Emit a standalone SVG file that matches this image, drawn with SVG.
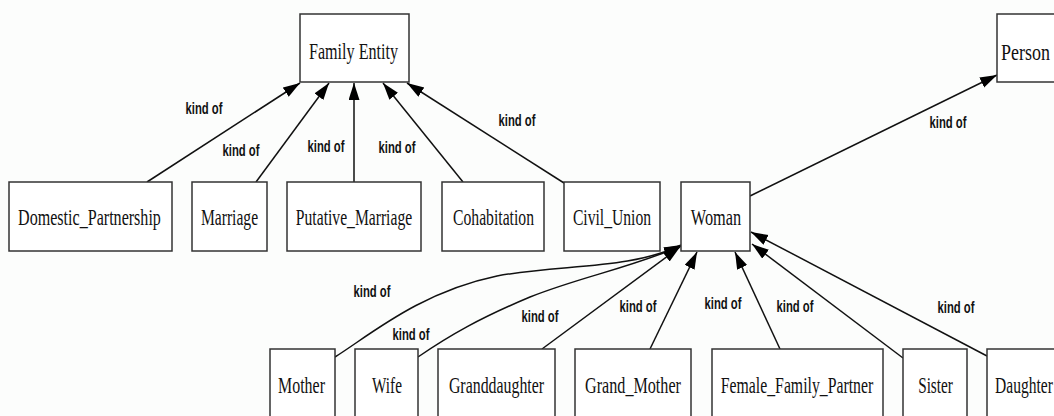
<svg xmlns="http://www.w3.org/2000/svg" width="1054" height="416" viewBox="0 0 1054 416">
<style>
.box{fill:#ffffff;stroke:#333333;stroke-width:1.5}
.nt{font-family:"Liberation Serif","Times New Roman",serif;font-size:24px;fill:#111111;text-anchor:middle}
.lb{font-family:"Liberation Sans",Arial,sans-serif;font-size:17px;font-weight:bold;fill:#111111;text-anchor:middle}
.e{fill:none;stroke:#111111;stroke-width:1.5;marker-end:url(#ah)}
</style>
<defs>
<marker id="ah" markerUnits="userSpaceOnUse" markerWidth="18" markerHeight="12" refX="17" refY="5.5" orient="auto">
<path d="M0,0 L17,5.5 L0,11 z" fill="#000000"/>
</marker>
</defs>
<rect x="0" y="0" width="1054" height="416" fill="#fcfdfc"/>
<g id="connectors">
<path class="e" d="M147,182 L300,83"/>
<path class="e" d="M256,182 L329,83"/>
<path class="e" d="M354,182 L354,83"/>
<path class="e" d="M463,182 L383,83"/>
<path class="e" d="M564,183 L407,83"/>
<path class="e" d="M750,196 L997,75"/>
<path class="e" d="M335,357 C370,335 420,292 497,276 C560,264 630,270 681,245"/>
<path class="e" d="M418,357 C450,335 480,318 530,297 C580,277 630,268 681,246"/>
<path class="e" d="M542,349 L680,247"/>
<path class="e" d="M650,349 L697,252"/>
<path class="e" d="M780,349 L735,252"/>
<path class="e" d="M903,358 L752,244"/>
<path class="e" d="M987,356 L751,232"/>
<text class="lb" transform="translate(204,114) scale(0.66,1)" textLength="56" lengthAdjust="spacingAndGlyphs">kind of</text>
<text class="lb" transform="translate(241,156) scale(0.66,1)" textLength="56" lengthAdjust="spacingAndGlyphs">kind of</text>
<text class="lb" transform="translate(326,152) scale(0.66,1)" textLength="56" lengthAdjust="spacingAndGlyphs">kind of</text>
<text class="lb" transform="translate(397,153) scale(0.66,1)" textLength="56" lengthAdjust="spacingAndGlyphs">kind of</text>
<text class="lb" transform="translate(517,126) scale(0.66,1)" textLength="56" lengthAdjust="spacingAndGlyphs">kind of</text>
<text class="lb" transform="translate(948,128) scale(0.66,1)" textLength="56" lengthAdjust="spacingAndGlyphs">kind of</text>
<text class="lb" transform="translate(372,297) scale(0.66,1)" textLength="56" lengthAdjust="spacingAndGlyphs">kind of</text>
<text class="lb" transform="translate(411,340) scale(0.66,1)" textLength="56" lengthAdjust="spacingAndGlyphs">kind of</text>
<text class="lb" transform="translate(540,322) scale(0.66,1)" textLength="56" lengthAdjust="spacingAndGlyphs">kind of</text>
<text class="lb" transform="translate(638,312) scale(0.66,1)" textLength="56" lengthAdjust="spacingAndGlyphs">kind of</text>
<text class="lb" transform="translate(723,309) scale(0.66,1)" textLength="56" lengthAdjust="spacingAndGlyphs">kind of</text>
<text class="lb" transform="translate(795,312) scale(0.66,1)" textLength="56" lengthAdjust="spacingAndGlyphs">kind of</text>
<text class="lb" transform="translate(956,313) scale(0.66,1)" textLength="56" lengthAdjust="spacingAndGlyphs">kind of</text>
</g>
<g id="family_entity"><rect class="box" x="300" y="14" width="109" height="68"/><text class="nt" transform="translate(353.5,59) scale(0.68,1)" textLength="131" lengthAdjust="spacingAndGlyphs">Family Entity</text></g>
<g id="person"><rect class="box" x="997" y="14" width="70" height="68"/><text class="nt" transform="translate(1025.5,60) scale(0.68,1)" textLength="72" lengthAdjust="spacingAndGlyphs">Person</text></g>
<g id="domestic_partnership"><rect class="box" x="9" y="182" width="163" height="69"/><text class="nt" transform="translate(89.5,225) scale(0.68,1)" textLength="210" lengthAdjust="spacingAndGlyphs">Domestic_Partnership</text></g>
<g id="marriage"><rect class="box" x="192" y="182" width="75" height="69"/><text class="nt" transform="translate(229.5,225) scale(0.68,1)" textLength="84" lengthAdjust="spacingAndGlyphs">Marriage</text></g>
<g id="putative_marriage"><rect class="box" x="287" y="182" width="134" height="69"/><text class="nt" transform="translate(354,225) scale(0.68,1)" textLength="171" lengthAdjust="spacingAndGlyphs">Putative_Marriage</text></g>
<g id="cohabitation"><rect class="box" x="442" y="182" width="102" height="69"/><text class="nt" transform="translate(493.5,225) scale(0.68,1)" textLength="119" lengthAdjust="spacingAndGlyphs">Cohabitation</text></g>
<g id="civil_union"><rect class="box" x="564" y="182" width="96" height="69"/><text class="nt" transform="translate(612,225) scale(0.68,1)" textLength="115" lengthAdjust="spacingAndGlyphs">Civil_Union</text></g>
<g id="woman"><rect class="box" x="681" y="182" width="69" height="69"/><text class="nt" transform="translate(716,225) scale(0.68,1)" textLength="74" lengthAdjust="spacingAndGlyphs">Woman</text></g>
<g id="mother"><rect class="box" x="270" y="349" width="65" height="68"/><text class="nt" transform="translate(301.5,393) scale(0.68,1)" textLength="69" lengthAdjust="spacingAndGlyphs">Mother</text></g>
<g id="wife"><rect class="box" x="355" y="349" width="63" height="68"/><text class="nt" transform="translate(387,393) scale(0.68,1)" textLength="44" lengthAdjust="spacingAndGlyphs">Wife</text></g>
<g id="granddaughter"><rect class="box" x="438" y="349" width="117" height="68"/><text class="nt" transform="translate(496.5,393) scale(0.68,1)" textLength="140" lengthAdjust="spacingAndGlyphs">Granddaughter</text></g>
<g id="grand_mother"><rect class="box" x="575" y="349" width="116" height="68"/><text class="nt" transform="translate(633,393) scale(0.68,1)" textLength="141" lengthAdjust="spacingAndGlyphs">Grand_Mother</text></g>
<g id="female_family_partner"><rect class="box" x="712" y="349" width="171" height="68"/><text class="nt" transform="translate(797,393) scale(0.68,1)" textLength="224" lengthAdjust="spacingAndGlyphs">Female_Family_Partner</text></g>
<g id="sister"><rect class="box" x="903" y="349" width="64" height="68"/><text class="nt" transform="translate(935.5,393) scale(0.68,1)" textLength="51" lengthAdjust="spacingAndGlyphs">Sister</text></g>
<g id="daughter"><rect class="box" x="987" y="349" width="80" height="68"/><text class="nt" transform="translate(1024,393) scale(0.68,1)" textLength="85" lengthAdjust="spacingAndGlyphs">Daughter</text></g>
</svg>
